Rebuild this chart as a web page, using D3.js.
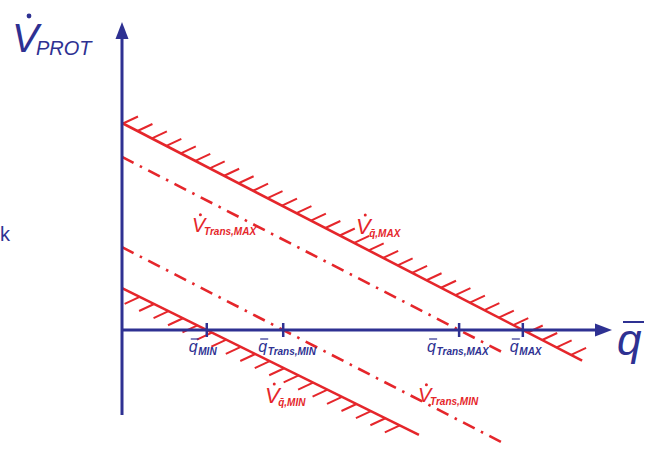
<!DOCTYPE html>
<html>
<head>
<meta charset="utf-8">
<script src="https://cdn.jsdelivr.net/npm/d3@7"></script>
<style>
  body { margin: 0; background: #fff; }
  svg { display: block; }
  text { font-family: "Liberation Sans", Arial, sans-serif; font-style: italic; }
</style>
</head>
<body>
<svg id="chart" width="647" height="450"></svg>
<script>
// Limit lines of the operating window, each a straight line in (q̄, V̇)
const limitNames  = ["qMax", "transMax", "transMin", "qMin"];
const vIntercepts = [67.2, 56.2, 26.9, 13.6];   // V̇ where q̄ = 0
const qIntercepts = [81.8, 68.8, 32.9, 17.3];   // q̄ where V̇ = 0
const qEnds       = [93.9, 78.2, 78.2, 60.6];   // q̄ where each line stops
const lineKinds   = ["hatchAbove", "dashdot", "dashdot", "hatchBelow"];

// Hatch marks along the two hard limits
const hatchRanges = { qMax: [0.2, 92.6], qMin: [3.6, 58.8] };
const hatchStep = 2.95;

// Marked positions on the q̄ axis
const tickValues = [17.3, 32.9, 68.8, 81.8];
const tickSubs   = ["MIN", "Trans,MIN", "Trans,MAX", "MAX"];

// Subscripts of the line labels
const lineSubs = { qMax: "q\u0304,MAX", transMax: "Trans,MAX", transMin: "Trans,MIN", qMin: "q\u0304,MIN" };

// Axis extents
const qAxisRange = [0, 100];
const vAxisRange = [-27.6, 100];

const blue = "#2e3192";
const red = "#e5262b";

const svg = d3.select("#chart");
const x = d3.scaleLinear().domain([0, 100]).range([122, 612]);
const y = d3.scaleLinear().domain([0, 100]).range([330, 22]);

const vAt = (i, q) => vIntercepts[i] * (1 - q / qIntercepts[i]);

// ---- limit lines ----
const lineGen = d3.line().x(d => x(d[0])).y(d => y(d[1]));
limitNames.forEach((name, i) => {
  const pts = [[0, vIntercepts[i]], [qEnds[i], vAt(i, qEnds[i])]];
  const path = svg.append("path")
    .attr("d", lineGen(pts))
    .attr("fill", "none")
    .attr("stroke", red)
    .attr("stroke-width", 2.6);
  if (lineKinds[i] === "dashdot") {
    path.attr("stroke-dasharray", "13,7,2.5,7").attr("stroke-width", 2.6);
  } else {
    const [a, b] = hatchRanges[name];
    const qs = d3.range(a, b + 0.001, hatchStep);
    const dir = lineKinds[i] === "hatchAbove" ? 1 : -1;
    svg.append("g").selectAll("line").data(qs).join("line")
      .attr("x1", q => x(q))
      .attr("y1", q => y(vAt(i, q)))
      .attr("x2", q => x(q) + dir * 15)
      .attr("y2", q => y(vAt(i, q)) - dir * 7)
      .attr("stroke", red)
      .attr("stroke-width", 2);
  }
});

// ---- axes ----
const axisG = svg.append("g");
axisG.append("line")
  .attr("x1", x(0)).attr("x2", x(qAxisRange[1]) - 10)
  .attr("y1", y(0)).attr("y2", y(0))
  .attr("stroke", blue).attr("stroke-width", 3);
axisG.append("path")
  .attr("d", `M${x(qAxisRange[1])},${y(0)} l-17,-6.5 l0,13 z`)
  .attr("fill", blue);
axisG.append("line")
  .attr("x1", x(0)).attr("x2", x(0))
  .attr("y1", y(vAxisRange[0])).attr("y2", y(vAxisRange[1]) + 10)
  .attr("stroke", blue).attr("stroke-width", 3);
axisG.append("path")
  .attr("d", `M${x(0)},${y(vAxisRange[1])} l-6.5,17 l13,0 z`)
  .attr("fill", blue);

// tick marks crossing the q̄ axis
axisG.selectAll("line.tick").data(tickValues).join("line")
  .attr("class", "tick")
  .attr("x1", d => x(d)).attr("x2", d => x(d))
  .attr("y1", y(0) - 7).attr("y2", y(0) + 7)
  .attr("stroke", blue).attr("stroke-width", 2.5);

// tick labels q̄ with subscripts
const tickDx = [-18, -25, -32, -13];
tickValues.forEach((v, i) => {
  const gx = x(v) + tickDx[i];
  const g = svg.append("g").attr("transform", `translate(${gx},${y(0) + 22})`);
  g.append("text").attr("x", 0).attr("y", 0)
    .attr("font-size", 16).attr("fill", blue).text("q");
  g.append("line").attr("x1", 2).attr("x2", 10).attr("y1", -13).attr("y2", -13)
    .attr("stroke", blue).attr("stroke-width", 1.2);
  g.append("text").attr("x", 9.5).attr("y", 3)
    .attr("font-size", 10).attr("font-weight", "bold").attr("fill", blue)
    .text(tickSubs[i]);
});

// ---- axis titles ----
const vTitle = svg.append("g").attr("transform", "translate(12,52)");
vTitle.append("text").attr("font-size", 40).attr("fill", blue).text("V");
vTitle.append("circle").attr("cx", 17).attr("cy", -36).attr("r", 2.4).attr("fill", blue);
vTitle.append("text").attr("x", 24).attr("y", 3).attr("font-size", 20).attr("fill", blue).text("PROT");

const qTitle = svg.append("g").attr("transform", "translate(617,355)");
qTitle.append("text").attr("font-size", 44).attr("fill", blue).text("q");
qTitle.append("line").attr("x1", 6).attr("x2", 27).attr("y1", -33).attr("y2", -33)
  .attr("stroke", blue).attr("stroke-width", 2);

// letter at the left edge
svg.append("text").attr("x", 0).attr("y", 241).attr("font-size", 20)
  .style("font-style", "normal").attr("fill", blue).text("k");

// ---- line labels ----
const labelPos = { qMax: [356, 234], transMax: [192, 232], transMin: [418, 402], qMin: [265, 403] };
const labelSize = { qMax: 22, transMax: 20, transMin: 20, qMin: 22 };
limitNames.forEach(name => {
  const [lx, ly] = labelPos[name];
  const fs = labelSize[name];
  const g = svg.append("g").attr("transform", `translate(${lx},${ly})`);
  g.append("text").attr("font-size", fs).attr("fill", red).text("V");
  g.append("circle").attr("cx", fs * 0.42).attr("cy", -fs * 0.86).attr("r", 1.5).attr("fill", red);
  g.append("text").attr("x", fs * 0.6).attr("y", 3)
    .attr("font-size", 10).attr("font-weight", "bold").attr("fill", red)
    .text(lineSubs[name]);
});
</script>
</body>
</html>
